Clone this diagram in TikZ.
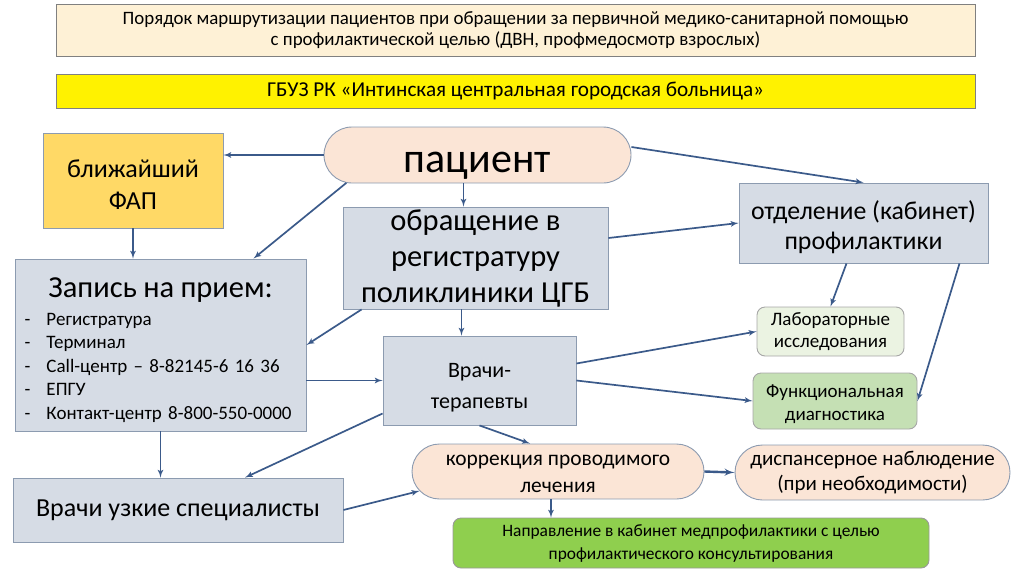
\documentclass[tikz,border=0pt]{standalone}
\usepackage{fontspec}
\setmainfont{Carlito}
\usetikzlibrary{arrows}
\usetikzlibrary{shapes.misc}
\definecolor{headbg}{HTML}{FEF1D6}
\definecolor{fapbg}{HTML}{FFD966}
\definecolor{peach}{HTML}{FBE5D6}
\definecolor{bluegray}{HTML}{D6DCE5}
\definecolor{labbg}{HTML}{EBF3E2}
\definecolor{funbg}{HTML}{C5E0B4}
\definecolor{naprbg}{HTML}{8FCF4E}
\definecolor{edge}{HTML}{8C9BB0}
\definecolor{arrowc}{HTML}{3B5A8A}
\newcommand{\dashitem}{\makebox[22pt][l]{-}}
\newcommand{\drop}[1]{\rule{0pt}{#1pt}}

\begin{document}
\begin{tikzpicture}[x=1pt,y=-1pt,>=latex',
    box/.style={draw=edge,line width=0.9pt,inner sep=2pt,align=center},
    bluebox/.style={box,fill=bluegray},
    term/.style={box,fill=peach,rounded rectangle},
    link/.style={->,draw=arrowc,line width=1.7pt}]
      \useasboundingbox (0,0) rectangle (1020,571);
      \node (head) [box,fill=headbg,draw=gray,minimum width=919,minimum height=52,
        font=\fontsize{18.9}{21}\selectfont] at (515.5,30)
        {Порядок маршрутизации пациентов при обращении за первичной медико-санитарной помощью\\
         с профилактической целью (ДВН, профмедосмотр взрослых)};
      \node (org) [box,fill=yellow,draw=gray,minimum width=919,minimum height=34,
        font=\fontsize{21.2}{23}\selectfont] at (515.5,91)
        {ГБУЗ РК «Интинская центральная городская больница»};
      \node (fap) [box,fill=fapbg,minimum width=180,minimum height=95,
        font=\fontsize{26}{32}\selectfont] at (133,180.5) {\drop{25}ближайший\\ФАП};
      \node (pat) [term,minimum width=311,minimum height=56,
        font=\fontsize{42}{44}\selectfont] at (477.5,155) {\drop{42}пациент};
      \node (zap) [bluebox,minimum width=291,minimum height=172,text width=272,align=left,
        font=\fontsize{19}{23.5}\selectfont] at (160.5,345)
        {\makebox[272pt]{\fontsize{30.5}{32}\selectfont\drop{30}Запись на прием:}\\[4pt]
         \dashitem Регистратура\\
         \dashitem Терминал\\
         \dashitem Call-центр – 8-82145-6 16 36\\
         \dashitem ЕПГУ\\
         \dashitem Контакт-центр 8-800-550-0000};
      \node (obr) [bluebox,minimum width=265,minimum height=102,inner ysep=0pt,
        font=\fontsize{30.5}{36}\selectfont] at (475.5,258)
        {обращение в\\регистратуру\\поликлиники ЦГБ};
      \node (otd) [bluebox,minimum width=249,minimum height=80,
        font=\fontsize{25.8}{30}\selectfont] at (863.5,223)
        {\drop{28}отделение (кабинет)\\профилактики};
      \node (ter) [bluebox,minimum width=193,minimum height=89,
        font=\fontsize{22}{31}\selectfont] at (479.5,380.5) {\drop{28}Врачи-\\терапевты};
      \node (lab) [box,fill=labbg,draw=gray!70,rounded corners=8,minimum width=147,minimum height=49,
        font=\fontsize{19}{22}\selectfont] at (830.5,331.5) {Лабораторные\\исследования};
      \node (fun) [box,fill=funbg,draw=gray!70,rounded corners=8,minimum width=164,minimum height=56,
        font=\fontsize{19}{23}\selectfont] at (835,401) {\drop{19}Функциональная\\диагностика};
      \node (spec) [bluebox,minimum width=330,minimum height=64,
        font=\fontsize{26}{30}\selectfont] at (178,510) {Врачи узкие специалисты};
      \node (korr) [term,minimum width=296,minimum height=55,
        font=\fontsize{21.4}{27}\selectfont] at (558,471.5) {\drop{16}коррекция проводимого\\лечения};
      \node (disp) [term,minimum width=279,minimum height=55,
        font=\fontsize{21}{25}\selectfont] at (872.5,472.5) {диспансерное наблюдение\\(при необходимости)};
      \node (napr) [box,fill=naprbg,draw=gray!80,rounded corners=8,minimum width=476,minimum height=50,
        font=\fontsize{17.4}{23}\selectfont] at (691,543)
        {Направление в кабинет медпрофилактики с целью\\профилактического консультирования};
      % from the patient
      \draw[link] (pat.west) -- (pat.west -| fap.east);
      \draw[link] (pat.192) -- ([xshift=93]zap.north);
      \draw[link] ([xshift=-14]pat.south) -- ([xshift=-14]pat.south |- obr.north);
      \draw[link] ([yshift=8]pat.east) -- (otd.north);
      \draw[link] (fap.south) -- (fap.south |- zap.north);
      % registry and therapists
      \draw[link] ([xshift=19]obr.south west) -- (zap.east);
      \draw[link] ([yshift=20]obr.east) -- (otd.west);
      \draw[link] ([xshift=-14]obr.south) -- ([xshift=-14]obr.south |- ter.north);
      \draw[link] (ter.west -| zap.east) -- (ter.west);
      \draw[link] ([yshift=17]ter.east) -- (lab.west);
      \draw[link] (ter.east) -- (fun.west);
      \draw[link] ([xshift=-17]otd.south) -- (lab.north);
      \draw[link] ([xshift=96]otd.south) -- (fun.east);
      \draw[link] (ter.south) -- ([xshift=-28]korr.north);
      \draw[link] ([yshift=-33]ter.west) -- ([xshift=67]spec.north);
      \draw[link] (zap.south) -- (zap.south |- spec.north);
      \draw[link] (spec.east) -- (korr.188);
      \draw[link,line width=2.4pt] (korr.east) -- (disp.west);
      \draw[link] ([xshift=-7]korr.south) -- ([xshift=-7]korr.south |- napr.north);
    \end{tikzpicture}
\end{document}
